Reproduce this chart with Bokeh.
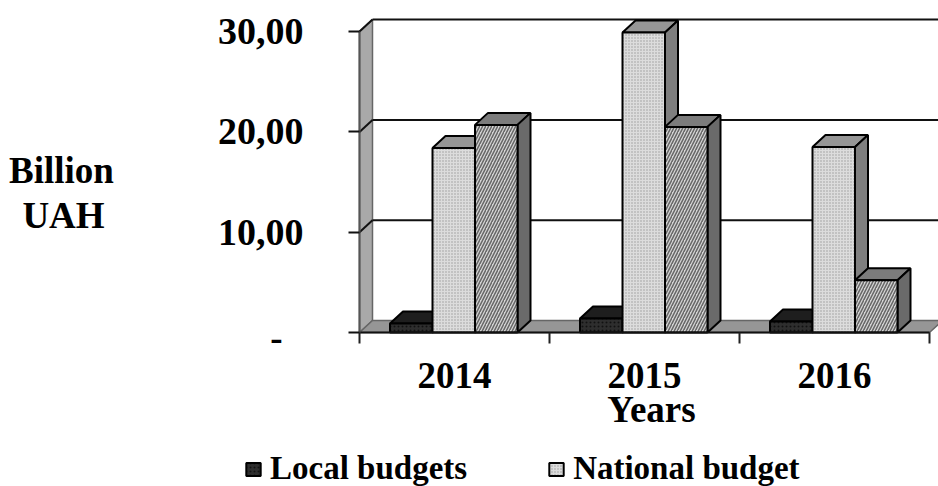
from bokeh.plotting import figure
from bokeh.models import Range1d, Label, FixedTicker, Legend, LegendItem
from bokeh.embed import file_html
from bokeh.resources import INLINE

years = ["2014", "2015", "2016"]
local_budgets = [0.9, 1.4, 1.1]
national_budget = [18.4, 29.9, 18.5]
third_series = [20.7, 20.5, 5.2]
y_ticks = [10, 20, 30]
y_labels = {10: "10,00", 20: "20,00", 30: "30,00"}

W, H = 938, 486
PX_X, PX_Y = 190, 10.03    # pixels per category and per value unit
AX_L, AX_B = 359, 332      # where the origin sits in the figure
DX, DY = 13 / PX_X, 12 / PX_Y
BW = 42.5 / PX_X
X0 = 30.5 / PX_X

FONT = "Liberation Serif"
p = figure(width=W, height=H, output_backend="svg", toolbar_location=None,
           x_range=Range1d(-AX_L / PX_X, (W - AX_L) / PX_X),
           y_range=Range1d(-(H - AX_B) / PX_Y, AX_B / PX_Y),
           min_border=0, outline_line_color=None)
p.grid.visible = False

yax = p.yaxis[0]
yax.fixed_location = 0
yax.bounds = (0, 30)
yax.ticker = FixedTicker(ticks=y_ticks, minor_ticks=[0, 10, 20, 30])
yax.major_label_overrides = y_labels
yax.major_label_text_font = FONT
yax.major_label_text_font_style = "bold"
yax.major_label_text_font_size = "38px"
yax.major_label_text_color = "#000000"
yax.major_label_standoff = 45
yax.major_tick_out = 0
yax.major_tick_in = 0
yax.minor_tick_out = 11
yax.minor_tick_in = 0
yax.minor_tick_line_color = "#111111"
yax.minor_tick_line_width = 2
yax.axis_line_color = "#555555"
yax.axis_line_width = 2

xax = p.xaxis[0]
xax.fixed_location = 0
xax.bounds = (0, 3)
xax.ticker = FixedTicker(ticks=[0.5, 1.5, 2.5], minor_ticks=[0, 1, 2, 3])
xax.major_label_overrides = {i + 0.5: y for i, y in enumerate(years)}
xax.major_label_text_font = FONT
xax.major_label_text_font_style = "bold"
xax.major_label_text_font_size = "37px"
xax.major_label_text_color = "#000000"
xax.major_label_standoff = 19
xax.major_tick_out = 0
xax.major_tick_in = 0
xax.minor_tick_out = 11
xax.minor_tick_in = 0
xax.minor_tick_line_color = "#222222"
xax.minor_tick_line_width = 2
xax.axis_line_color = "#111111"
xax.axis_line_width = 2

# walls and floor
p.patch([0, DX, DX, 0], [0, DY, 30 + DY, 30], fill_color="#a9a9a9", line_color="#666666", line_width=1.5)
p.patch([0, DX, 3 + DX, 3], [0, DY, DY, 0], fill_color="#969696", line_color="#666666", line_width=1.5)
for t in y_ticks:
    p.line([0, DX], [t, t + DY], line_color="#111111", line_width=2)
    p.line([DX, 3 + DX], [t + DY, t + DY], line_color="#111111", line_width=2)

def bar(x, v, front, hatch, hatch_color, scale, weight, top, side):
    x1 = x + BW
    p.patch([x, x + DX, x1 + DX, x1], [v, v + DY, v + DY, v], fill_color=top, line_color="#000000", line_width=2)
    p.patch([x1, x1 + DX, x1 + DX, x1], [0, DY, v + DY, v], fill_color=side, line_color="#000000", line_width=2)
    return p.quad(left=[x], right=[x1], bottom=[0], top=[v], fill_color=front, hatch_pattern=hatch,
                  hatch_color=hatch_color, hatch_scale=scale, hatch_weight=weight, line_color="#000000", line_width=2)

local_r = nat_r = None
for i in range(3):
    x = i + X0
    r0 = bar(x, local_budgets[i], "#2e2e2e", "dot", "#111111", 4, 1, "#1e1e1e", "#1e1e1e")
    r1 = bar(x + BW, national_budget[i], "#dcdcdc", "dot", "#9a9a9a", 3, 1, "#969696", "#7f7f7f")
    bar(x + 2 * BW, third_series[i], "#d4d4d4", "right_diagonal_line", "#666666", 6, 1.5, "#7c7c7c", "#6a6a6a")
    local_r = local_r or r0
    nat_r = nat_r or r1

def text(x, y, s, size=37):
    p.add_layout(Label(x=x, y=H - y, x_units="screen", y_units="screen", text=s, text_font=FONT,
                       text_font_style="bold", text_font_size=f"{size}px", text_color="#000000",
                       text_align="center", text_baseline="alphabetic"))

text(276, 337, "-")
text(651, 409, "Years")
text(61, 170, "Billion")
text(63, 215, "UAH")

legend = Legend(items=[LegendItem(label="Local budgets", renderers=[local_r]),
                       LegendItem(label="National budget", renderers=[nat_r])],
                orientation="horizontal", location=(244, -1), spacing=80,
                label_text_font=FONT, label_text_font_style="bold", label_text_font_size="33px",
                label_text_color="#000000", glyph_width=18, glyph_height=16, label_standoff=8,
                background_fill_color=None, border_line_color=None, margin=0, padding=0)
p.add_layout(legend, "center")

open("out.html", "w").write(file_html(p, INLINE))
